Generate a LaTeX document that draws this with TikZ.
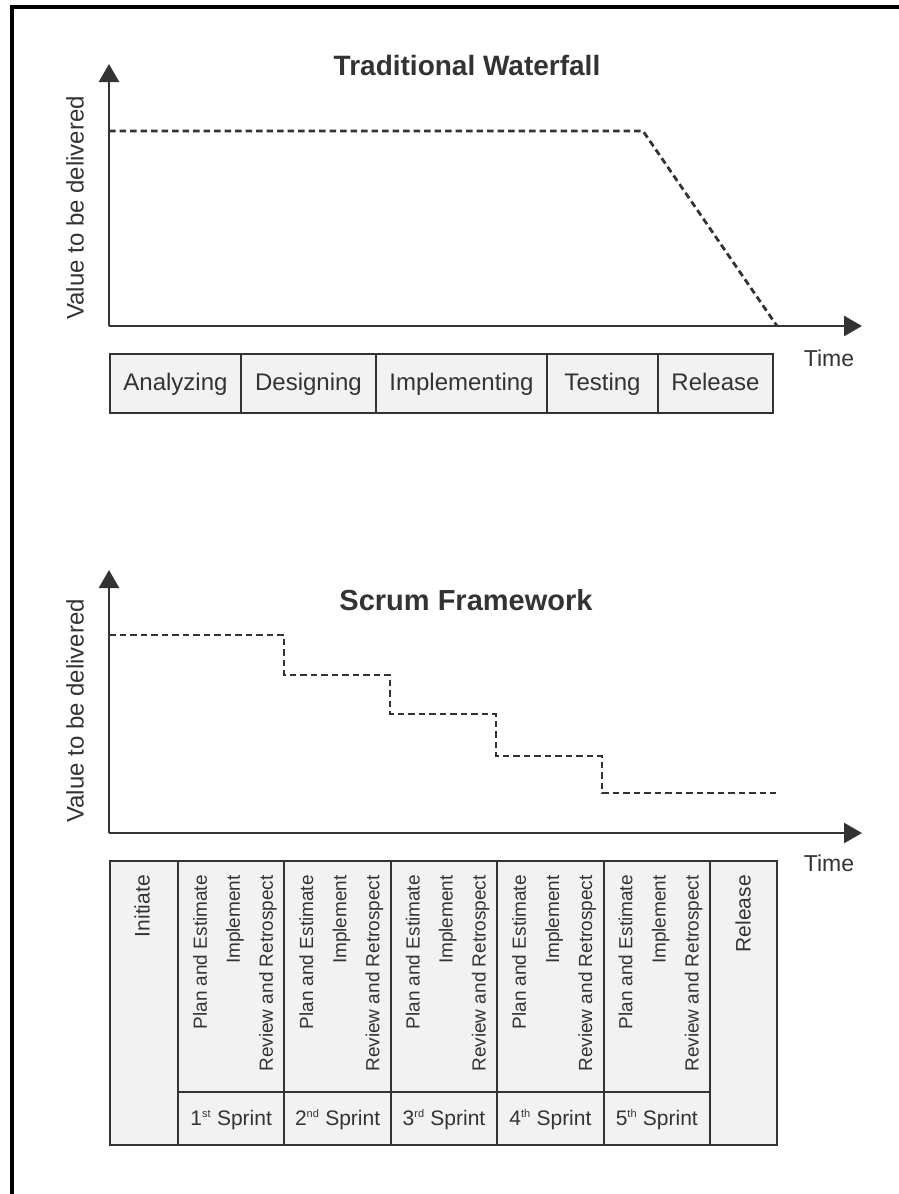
\documentclass[tikz,border=0pt]{standalone}
\usepackage{fontspec}
\setmainfont{Liberation Sans}
\usetikzlibrary{arrows.meta}
\definecolor{ink}{HTML}{333333}
\definecolor{boxfill}{HTML}{F2F2F2}
\begin{document}
\begin{tikzpicture}[x=1pt,y=-1pt,
  frameline/.style={draw=black,line width=4pt},
  axis/.style={draw=ink,line width=2.6pt,-{Triangle[length=18pt,width=20pt]}},
  value/.style={draw=ink,line width=2.8pt,dash pattern=on 6.5pt off 4pt},
  cell/.style={draw=ink,line width=2pt,fill=boxfill,inner sep=0pt,anchor=north west},
  title/.style={text=ink,font=\fontsize{28}{32}\selectfont\bfseries,inner sep=0pt},
  axlbl/.style={text=ink,font=\fontsize{24}{28}\selectfont,inner sep=0pt},
  timelbl/.style={text=ink,font=\fontsize{23}{27}\selectfont,inner sep=0pt,anchor=north},
  wflbl/.style={text=ink,font=\fontsize{24}{28}\selectfont,inner sep=0pt,anchor=base},
  phase/.style={text=ink,font=\fontsize{21}{25}\selectfont,inner sep=0pt,rotate=90,anchor=east},
  act/.style={text=ink,font=\fontsize{19}{23}\selectfont,inner sep=0pt,rotate=90,anchor=east},
  sprintlbl/.style={text=ink,font=\fontsize{21}{25}\selectfont,inner sep=0pt,anchor=base}
]
\useasboundingbox (0,0) rectangle (899,1194);
\fill[white] (0,0) rectangle (899,1194);
% frame
\coordinate (fbl) at (12,1196);
\coordinate (ftl) at (12,7);
\coordinate (ftr) at (901,7);
\draw[frameline] (fbl) -- (ftl) -- (ftr);

% ===== Traditional Waterfall =====
\node[title] (wtitle) at (467,65) {Traditional Waterfall};
\coordinate (wo) at (109,326);
\coordinate (wy) at (109,64);
\coordinate (wx) at (862,326);
\draw[axis] (wo) -- (wy);
\draw[axis] (wo) -- (wx);
\node[axlbl,rotate=90] (wval) at (75,208) {Value to be delivered};
\node[timelbl] (wtime) at (829,350) {Time};
\coordinate (w1) at (109,131);
\coordinate (w2) at (643,131);
\coordinate (w3) at (777,326);
\draw[value] (w1) -- (w2) -- (w3);

\node[cell,minimum width=131pt,minimum height=59pt] (wa) at (109,353) {};
\node[cell,minimum width=135pt,minimum height=59pt] (wd) at (240,353) {};
\node[cell,minimum width=171pt,minimum height=59pt] (wi) at (375,353) {};
\node[cell,minimum width=111pt,minimum height=59pt] (wt) at (546,353) {};
\node[cell,minimum width=115pt,minimum height=59pt] (wr) at (657,353) {};
\node[wflbl] at (wa.center |- 0,390) {Analyzing};
\node[wflbl] at (wd.center |- 0,390) {Designing};
\node[wflbl] at (wi.center |- 0,390) {Implementing};
\node[wflbl] at (wt.center |- 0,390) {Testing};
\node[wflbl] at (wr.center |- 0,390) {Release};

% ===== Scrum Framework =====
\node[title,font=\fontsize{29}{33}\selectfont\bfseries] (stitle) at (466,600) {Scrum Framework};
\coordinate (so) at (109,833);
\coordinate (sy) at (109,570);
\coordinate (sx) at (862,833);
\draw[axis] (so) -- (sy);
\draw[axis] (so) -- (sx);
\node[axlbl,rotate=90] (sval) at (75,711) {Value to be delivered};
\node[timelbl] (stime) at (829,855) {Time};
\coordinate (s0) at (109,635);
\coordinate (s1) at (284,635);
\coordinate (s2) at (284,675);
\coordinate (s3) at (390,675);
\coordinate (s4) at (390,714);
\coordinate (s5) at (496,714);
\coordinate (s6) at (496,756);
\coordinate (s7) at (602,756);
\coordinate (s8) at (602,793);
\coordinate (s9) at (776,793);
\draw[value] (s0) -- (s1) -- (s2) -- (s3) -- (s4) -- (s5) -- (s6) -- (s7) -- (s8) -- (s9);

\node[cell,minimum width=68pt,minimum height=284pt] (sinit) at (109,860) {};
\node[cell,minimum width=67pt,minimum height=284pt] (srel) at (709,860) {};
\node[phase] (tinit) at (142,875) {Initiate};
\node[phase] (trel) at (743,875) {Release};
\foreach \i/\sfx in {1/st,2/nd,3/rd,4/th,5/th}{
  \pgfmathsetmacro{\xl}{177+(\i-1)*106.4}
  \node[cell,minimum width=106.4pt,minimum height=231pt] (sp\i) at (\xl,860) {};
  \node[cell,minimum width=106.4pt,minimum height=53pt] (sl\i) at (\xl,1091) {};
  \node[act] (pe\i) at (\xl+23,875) {Plan and Estimate};
  \node[act] (im\i) at (\xl+58,875) {Implement};
  \node[act] (rr\i) at (\xl+91,875) {Review and Retrospect};
  \node[sprintlbl] (sn\i) at (sl\i.center |- 0,1125) {\i\textsuperscript{\fontsize{11}{11}\selectfont\sfx} Sprint};
}
\end{tikzpicture}
\end{document}
